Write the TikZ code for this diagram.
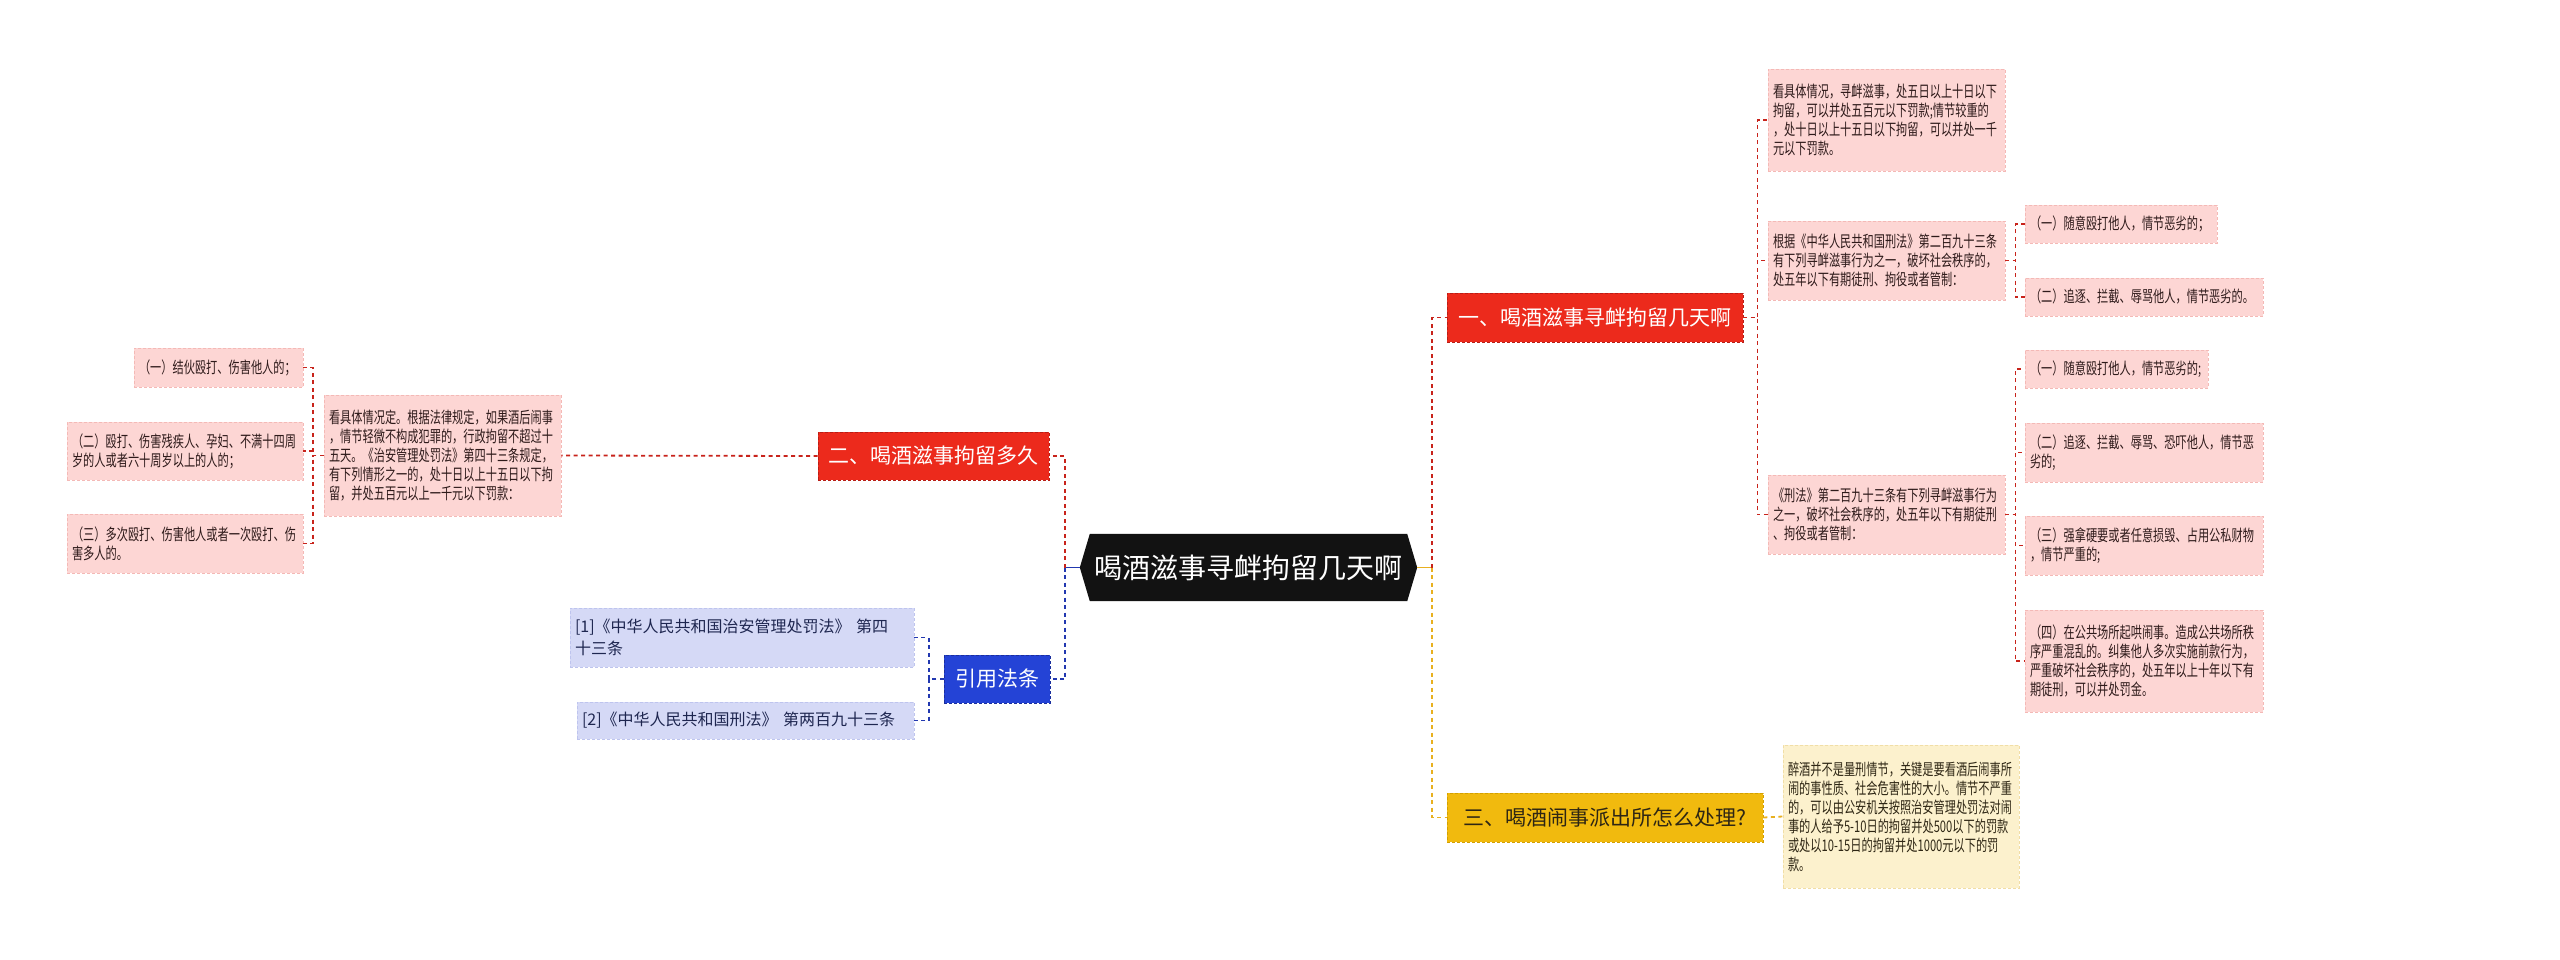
\documentclass[tikz,border=0pt]{standalone}
\usepackage{fontspec}
\usetikzlibrary{backgrounds}
\newfontfamily\cjkN{Noto Sans CJK SC}
\newfontfamily\cjkC[FakeStretch=0.7]{Noto Sans CJK SC}
\definecolor{cRf}{HTML}{FDD6D4}
\definecolor{cRb}{HTML}{F4B9B6}
\definecolor{cRt}{HTML}{2E1A1A}
\definecolor{cYf}{HTML}{FCF1CD}
\definecolor{cYb}{HTML}{F1DEA6}
\definecolor{cYt}{HTML}{2E2614}
\definecolor{cBf}{HTML}{D5D9F6}
\definecolor{cBb}{HTML}{BEC4EE}
\definecolor{cBt}{HTML}{1E2650}
\definecolor{brR}{HTML}{EC2A1C}
\definecolor{brRb}{HTML}{B81E16}
\definecolor{brY}{HTML}{F1BA0E}
\definecolor{brYb}{HTML}{D39F00}
\definecolor{brB}{HTML}{2443D6}
\definecolor{brBb}{HTML}{1A2F9E}
\definecolor{lnRc}{HTML}{C8231B}
\definecolor{lnBc}{HTML}{2238B0}
\definecolor{lnYc}{HTML}{E8B020}
\tikzset{
  leafR/.style={draw=cRb, fill=cRf, dash pattern=on 3pt off 2pt, line width=0.8pt, text=cRt,
    font=\cjkC\fontsize{16}{19}\selectfont, align=left, inner xsep=5pt, inner ysep=0pt},
  leafY/.style={leafR, draw=cYb, fill=cYf, text=cYt},
  leafB/.style={draw=cBb, fill=cBf, dash pattern=on 3pt off 2pt, line width=0.8pt, text=cBt,
    font=\cjkN\fontsize{16}{22}\selectfont, align=left, inner xsep=5pt, inner ysep=0pt},
  brnode/.style={dash pattern=on 3pt off 2pt, line width=0.8pt, text=white,
    font=\cjkN\fontsize{21}{24}\selectfont, align=center, inner sep=0pt},
  brRed/.style={brnode, draw=brRb, fill=brR},
  brYel/.style={brnode, draw=brYb, fill=brY, text=cYt},
  brBlu/.style={brnode, draw=brBb, fill=brB},
  rootnode/.style={text=white, font=\cjkN\fontsize{28}{32}\selectfont, inner sep=0pt},
  lnR/.style={draw=lnRc, line width=1.8pt, dash pattern=on 4pt off 3.5pt},
  lnB/.style={draw=lnBc, line width=1.8pt, dash pattern=on 4pt off 3.5pt},
  lnY/.style={draw=lnYc, line width=1.8pt, dash pattern=on 4pt off 3.5pt},
}
\begin{document}
\begin{tikzpicture}[x=1pt,y=-1pt]
\useasboundingbox (0,0) rectangle (2560,959);

% root
\node[rootnode, minimum width=337, minimum height=67] (root) at (1248.5,567.5) {喝酒滋事寻衅拘留几天啊};
\begin{scope}[on background layer]
\fill[white] (0,0) rectangle (2560,959);
\fill[black!93] ([xshift=10]root.north west) -- ([xshift=-10]root.north east) -- (root.east)
  -- ([xshift=-10]root.south east) -- ([xshift=10]root.south west) -- (root.west) -- cycle;
\end{scope}

% branches
\node[brRed, minimum width=296, minimum height=49] (b1) at (1595,317.5) {一、喝酒滋事寻衅拘留几天啊};
\node[brRed, minimum width=231, minimum height=48] (b2) at (933.5,456) {二、喝酒滋事拘留多久};
\node[brYel, minimum width=316, minimum height=49] (b3) at (1605,817.5) {三、喝酒闹事派出所怎么处理?};
\node[brBlu, minimum width=106, minimum height=48] (ref) at (997,679) {引用法条};

% right red leaves
\node[leafR, text width=227, minimum height=102] (a1) at (1886.5,120) {看具体情况，寻衅滋事，处五日以上十日以下\\拘留，可以并处五百元以下罚款;情节较重的\\，处十日以上十五日以下拘留，可以并处一千\\元以下罚款。};
\node[leafR, text width=227, minimum height=79] (a2) at (1886.5,260.5) {根据《中华人民共和国刑法》第二百九十三条\\有下列寻衅滋事行为之一，破坏社会秩序的，\\处五年以下有期徒刑、拘役或者管制：};
\node[leafR, text width=227, minimum height=79] (a3) at (1886.5,514.5) {《刑法》第二百九十三条有下列寻衅滋事行为\\之一，破坏社会秩序的，处五年以下有期徒刑\\、拘役或者管制：};
\node[leafR, text width=182, minimum height=38] (a2a) at (2121,224) {（一）随意殴打他人，情节恶劣的；};
\node[leafR, text width=228, minimum height=38] (a2b) at (2144,297) {（二）追逐、拦截、辱骂他人，情节恶劣的。};
\node[leafR, text width=173, minimum height=38] (a3a) at (2116.5,369) {（一）随意殴打他人，情节恶劣的;};
\node[leafR, text width=228, minimum height=59] (a3b) at (2144,452.5) {（二）追逐、拦截、辱骂、恐吓他人，情节恶\\劣的;};
\node[leafR, text width=228, minimum height=59] (a3c) at (2144,545.5) {（三）强拿硬要或者任意损毁、占用公私财物\\，情节严重的;};
\node[leafR, text width=228, minimum height=102] (a3d) at (2144,661) {（四）在公共场所起哄闹事。造成公共场所秩\\序严重混乱的。纠集他人多次实施前款行为，\\严重破坏社会秩序的，处五年以上十年以下有\\期徒刑，可以并处罚金。};

% yellow leaf
\node[leafY, text width=226, minimum height=143] (y1) at (1901,816.5) {醉酒并不是量刑情节，关键是要看酒后闹事所\\闹的事性质、社会危害性的大小。情节不严重\\的，可以由公安机关按照治安管理处罚法对闹\\事的人给予5-10日的拘留并处500以下的罚款\\或处以10-15日的拘留并处1000元以下的罚\\款。};

% left red leaves
\node[leafR, text width=227, minimum height=121] (c) at (442.5,455.5) {看具体情况定。根据法律规定，如果酒后闹事\\，情节轻微不构成犯罪的，行政拘留不超过十\\五天。《治安管理处罚法》第四十三条规定，\\有下列情形之一的，处十日以上十五日以下拘\\留，并处五百元以上一千元以下罚款：};
\node[leafR, text width=159, minimum height=39] (c1) at (218.5,367.5) {（一）结伙殴打、伤害他人的；};
\node[leafR, text width=226, minimum height=58] (c2) at (185,451) {（二）殴打、伤害残疾人、孕妇、不满十四周\\岁的人或者六十周岁以上的人的；};
\node[leafR, text width=226, minimum height=59] (c3) at (185,543.5) {（三）多次殴打、伤害他人或者一次殴打、伤\\害多人的。};

% blue leaves
\node[leafB, text width=334, minimum height=59] (d1) at (742,637.5) {[1]《中华人民共和国治安管理处罚法》 第四\\十三条};
\node[leafB, text width=327, minimum height=37] (d2) at (745.5,720.5) {[2]《中华人民共和国刑法》 第两百九十三条};

% connectors
\coordinate (lsp) at (1065,567.5);
\coordinate (rsp) at (1432,567.5);
\draw[draw=lnBc, line width=1.8pt] (root.west) -- (lsp);
\draw[draw=lnYc, line width=1.8pt] (root.east) -- (rsp);
\draw[lnR] (lsp) |- (b2.east);
\draw[lnB] (lsp) |- (ref.east);
\draw[lnR] (rsp) |- (b1.west);
\draw[lnY] (rsp) |- (b3.west);

\draw[lnR] (b1.east) -- ++(14,0) |- (a1.west);
\draw[lnR] (b1.east) -- ++(14,0) |- (a2.west);
\draw[lnR] (b1.east) -- ++(14,0) |- (a3.west);
\draw[lnR] (a2.east) -- ++(10,0) |- (a2a.west);
\draw[lnR] (a2.east) -- ++(10,0) |- (a2b.west);
\draw[lnR] (a3.east) -- ++(10,0) |- (a3a.west);
\draw[lnR] (a3.east) -- ++(10,0) |- (a3b.west);
\draw[lnR] (a3.east) -- ++(10,0) |- (a3c.west);
\draw[lnR] (a3.east) -- ++(10,0) |- (a3d.west);
\draw[lnY] (b3.east) -- (y1.west);
\draw[lnR] (b2.west) -- (c.east);
\draw[lnR] (c.west) -- ++(-11,0) |- (c1.east);
\draw[lnR] (c.west) -- ++(-11,0) |- (c2.east);
\draw[lnR] (c.west) -- ++(-11,0) |- (c3.east);
\draw[lnB] (ref.west) -- ++(-15,0) |- (d1.east);
\draw[lnB] (ref.west) -- ++(-15,0) |- (d2.east);
\end{tikzpicture}
\end{document}
